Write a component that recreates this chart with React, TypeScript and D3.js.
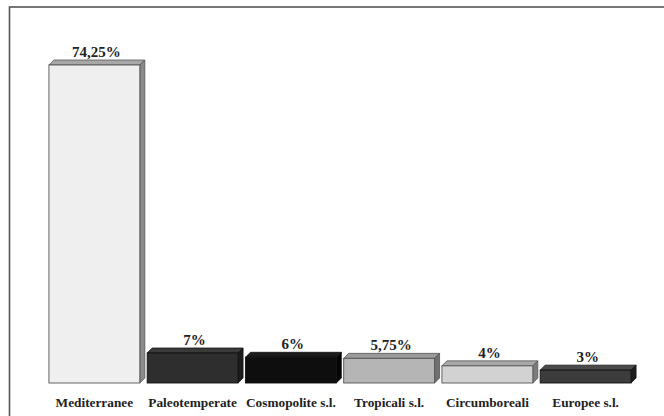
import React from "react";
import * as d3 from "d3";

const categories = ["Mediterranee", "Paleotemperate", "Cosmopolite s.l.", "Tropicali s.l.", "Circumboreali", "Europee s.l."];
const values = [74.25, 7, 6, 5.75, 4, 3];
const valueLabels = ["74,25%", "7%", "6%", "5,75%", "4%", "3%"];
const frontColors = ["#efefef", "#2e2e2e", "#0e0e0e", "#b5b5b5", "#d2d2d2", "#3c3c3c"];
const topColors = ["#a8a8a8", "#3a3a3a", "#1a1a1a", "#9a9a9a", "#a8a8a8", "#4a4a4a"];
const sideColors = ["#8a8a8a", "#1c1c1c", "#050505", "#707070", "#7c7c7c", "#1e1e1e"];

const W = 664;
const H = 416;
const DEPTH = 5;

export default function App() {
  const x = d3.scaleBand<string>().domain(categories).range([45, 635]).paddingInner(0.075).paddingOuter(0.04);
  const y = d3.scaleLinear().domain([0, 74.25]).range([383, 65]);
  const bw = x.bandwidth();
  const base = y(0);
  return (
    <svg width={W} height={H} style={{ position: "absolute", left: 0, top: 0, background: "#fff" }}>
      <rect x={9.5} y={7} width={W} height={H} fill="#fff" stroke="#555" strokeWidth={1.6} />
      {categories.map((c, i) => {
        const x0 = x(c)!;
        const x1 = x0 + bw;
        const yt = y(values[i]);
        const d = DEPTH;
        const stroke = i === 0 || i === 3 || i === 4 ? "#555" : "#111";
        return (
          <g key={c}>
            <path d={`M${x0},${yt} L${x0 + d},${yt - d} L${x1 + d},${yt - d} L${x1},${yt} Z`} fill={topColors[i]} stroke={stroke} strokeWidth={0.8} />
            <path d={`M${x1},${yt} L${x1 + d},${yt - d} L${x1 + d},${base - d} L${x1},${base} Z`} fill={sideColors[i]} stroke={stroke} strokeWidth={0.8} />
            <rect x={x0} y={yt} width={bw} height={base - yt} fill={frontColors[i]} stroke={stroke} strokeWidth={0.9} />
            <text x={x0 + bw / 2 + 2} y={yt - d - 3} textAnchor="middle" fontFamily="'Liberation Serif', serif" fontWeight="bold" fontSize={15} fill="#222">
              {valueLabels[i]}
            </text>
            <text x={x0 + bw / 2} y={407} textAnchor="middle" fontFamily="'Liberation Serif', serif" fontWeight="bold" fontSize={13.3} fill="#222">
              {c}
            </text>
          </g>
        );
      })}
    </svg>
  );
}
